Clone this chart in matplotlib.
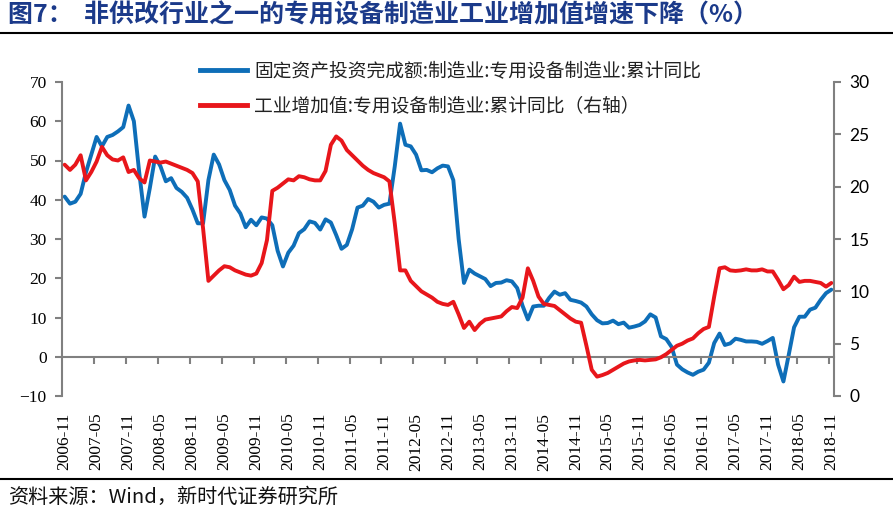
import numpy as np
import pandas as pd
import matplotlib
matplotlib.use("Agg")
import matplotlib.pyplot as plt
from matplotlib.lines import Line2D

# DATA
months = pd.period_range("2006-11", "2018-11", freq="M").strftime("%Y-%m").tolist()

fai = [40.8, 39.0, 39.5, 41.5, 47.0, 51.5, 56.0, 53.6, 56.0, 56.5,
       57.4, 58.5, 64.0, 60.0, 47.0, 35.7, 43.0, 51.0, 48.5, 44.7,
       45.5, 43.0, 42.0, 40.5, 37.5, 34.0, 34.0, 45.0, 51.5, 49.0,
       45.0, 42.5, 38.5, 36.5, 33.0, 34.9, 33.5, 35.5, 35.2, 33.5,
       27.0, 23.0, 26.5, 28.3, 31.5, 32.5, 34.5, 34.1, 32.4, 35.0,
       34.2, 31.0, 27.5, 28.5, 32.5, 38.0, 38.5, 40.2, 39.5, 38.0,
       38.7, 39.0, 48.5, 59.4, 54.0, 53.6, 51.5, 47.5, 47.6, 47.0,
       48.0, 48.7, 48.5, 45.0, 30.0, 18.8, 22.2, 21.2, 20.5, 19.8,
       18.0, 18.8, 18.9, 19.5, 19.2, 17.5, 13.0, 9.5, 12.8, 13.0,
       13.0, 15.0, 16.6, 15.8, 16.2, 14.5, 14.2, 13.8, 12.8, 10.8,
       9.3, 8.5, 8.6, 9.2, 8.3, 8.7, 7.4, 7.7, 8.1, 9.0,
       10.8, 10.0, 5.2, 4.5, 2.5, -2.0, -3.2, -4.0, -4.6, -3.8,
       -3.3, -1.5, 3.5, 5.9, 3.0, 3.4, 4.6, 4.3, 3.9, 3.9,
       3.8, 3.3, 4.0, 4.8, -2.0, -6.3, 0.5, 7.5, 10.2, 10.2,
       12.0, 12.5, 14.5, 16.2, 17.1]

iav = [22.1, 21.6, 22.1, 23.0, 20.6, 21.4, 22.4, 23.8, 23.0, 22.6,
       22.5, 22.8, 21.4, 21.6, 20.8, 20.4, 22.5, 22.4, 22.3, 22.4,
       22.2, 22.0, 21.8, 21.6, 21.3, 20.5, 16.0, 11.0, 11.5, 12.0,
       12.4, 12.3, 12.0, 11.8, 11.6, 11.5, 11.7, 12.7, 14.9, 19.6,
       19.9, 20.3, 20.7, 20.6, 21.0, 20.9, 20.7, 20.6, 20.6, 21.5,
       24.0, 24.8, 24.4, 23.5, 23.0, 22.5, 22.0, 21.6, 21.3, 21.1,
       20.9, 20.5, 16.5, 12.0, 12.0, 11.0, 10.5, 10.0, 9.7, 9.4,
       9.0, 8.8, 8.7, 9.0, 7.8, 6.5, 7.1, 6.3, 6.9, 7.3,
       7.4, 7.5, 7.6, 8.1, 8.5, 8.4, 9.4, 12.2, 11.0, 9.5,
       8.8, 8.7, 8.6, 8.2, 7.8, 7.4, 7.1, 7.0, 4.8, 2.5,
       1.85, 2.0, 2.2, 2.5, 2.8, 3.1, 3.3, 3.4, 3.45, 3.4,
       3.45, 3.5, 3.7, 4.0, 4.4, 4.8, 5.0, 5.3, 5.5, 6.0,
       6.4, 6.6, 9.5, 12.2, 12.3, 12.0, 11.95, 12.0, 12.1, 12.0,
       12.0, 12.1, 11.9, 11.9, 11.1, 10.2, 10.6, 11.4, 10.9, 11.0,
       11.0, 10.9, 10.8, 10.45, 10.8]

label_fai = "固定资产投资完成额:制造业:专用设备制造业:累计同比"
label_iav = "工业增加值:专用设备制造业:累计同比（右轴）"
title = "图7：  非供改行业之一的专用设备制造业工业增加值增速下降（%）"
source = "资料来源：Wind，新时代证券研究所"

# STYLE
blue = "#0E6EB8"
red = "#E8161B"
gray = "#808080"
cjk = ["Noto Sans CJK SC", "DejaVu Sans"]
serif = "Liberation Serif"

fig = plt.figure(figsize=(8.93, 5.15), dpi=100)
ax = fig.add_axes([62 / 893, 1 - 396 / 515, 772 / 893, 314 / 515])
ax2 = ax.twinx()

x = np.arange(len(months))
ax.plot(x, fai, color=blue, lw=2.8, solid_capstyle="round")
ax2.plot(x, iav, color=red, lw=2.8, solid_capstyle="round")

ax.set_xlim(-0.5, len(months) - 0.5)
ax.set_ylim(-10, 70)
ax.set_yticks(np.arange(-10, 71, 10))
ax2.set_ylim(0, 30)
ax2.set_yticks(np.arange(0, 31, 5))

# spines
for s in ["top", "right"]:
    ax.spines[s].set_visible(False)
for s in ["top", "left", "bottom"]:
    ax2.spines[s].set_visible(False)
ax.spines["bottom"].set_position(("data", 0))
for sp in [ax.spines["left"], ax.spines["bottom"], ax2.spines["right"]]:
    sp.set_color(gray)
    sp.set_linewidth(1.5)

# x ticks: marks on the zero line, labels at the bottom
ax.set_xticks([])
ax.set_xticks(np.arange(5.5, len(months) - 0.5, 6), minor=True)
ax.tick_params(axis="x", which="minor", direction="out", length=5, width=1.5, color=gray)
sec = ax.secondary_xaxis(0.0)
sec.set_xticks(x[::6])
sec.set_xticklabels(months[::6], rotation=90, fontsize=12.5, family=serif)
sec.tick_params(length=0, pad=12)
sec.spines["bottom"].set_visible(False)

ax.tick_params(axis="y", direction="out", length=5, width=1.5, color=gray,
               labelsize=12.5, pad=6)
for t in ax.get_yticklabels():
    t.set_family(serif)
ax2.tick_params(axis="y", direction="out", length=5, width=1.5, color=gray,
                labelsize=12.5, pad=6)
for t in ax2.get_yticklabels():
    t.set_family("Lato")

# legend
handles = [Line2D([], [], color=blue, lw=3.5), Line2D([], [], color=red, lw=3.5)]
fig.legend(handles, [label_fai, label_iav], loc="upper left",
           bbox_to_anchor=(183 / 893, 1 - 44 / 515), frameon=False,
           prop={"family": cjk, "size": 13.5}, handlelength=2.5,
           handletextpad=0.4, labelspacing=0.75, labelcolor="#222222")

# title, rules and source
fig.text(8 / 893, 1 - 15 / 515, title, family=cjk, fontsize=18, fontweight="bold",
         color="#1B3A8A", va="center", ha="left")
fig.add_artist(Line2D([0, 1], [1 - 33 / 515, 1 - 33 / 515], color="black", lw=1.5))
fig.add_artist(Line2D([0, 1], [1 - 479 / 515, 1 - 479 / 515], color="black", lw=1.5))
fig.text(8 / 893, 1 - 497 / 515, source, family=cjk, fontsize=14.5, color="#111111",
         va="center", ha="left")

fig.savefig("out.png", dpi=100)
